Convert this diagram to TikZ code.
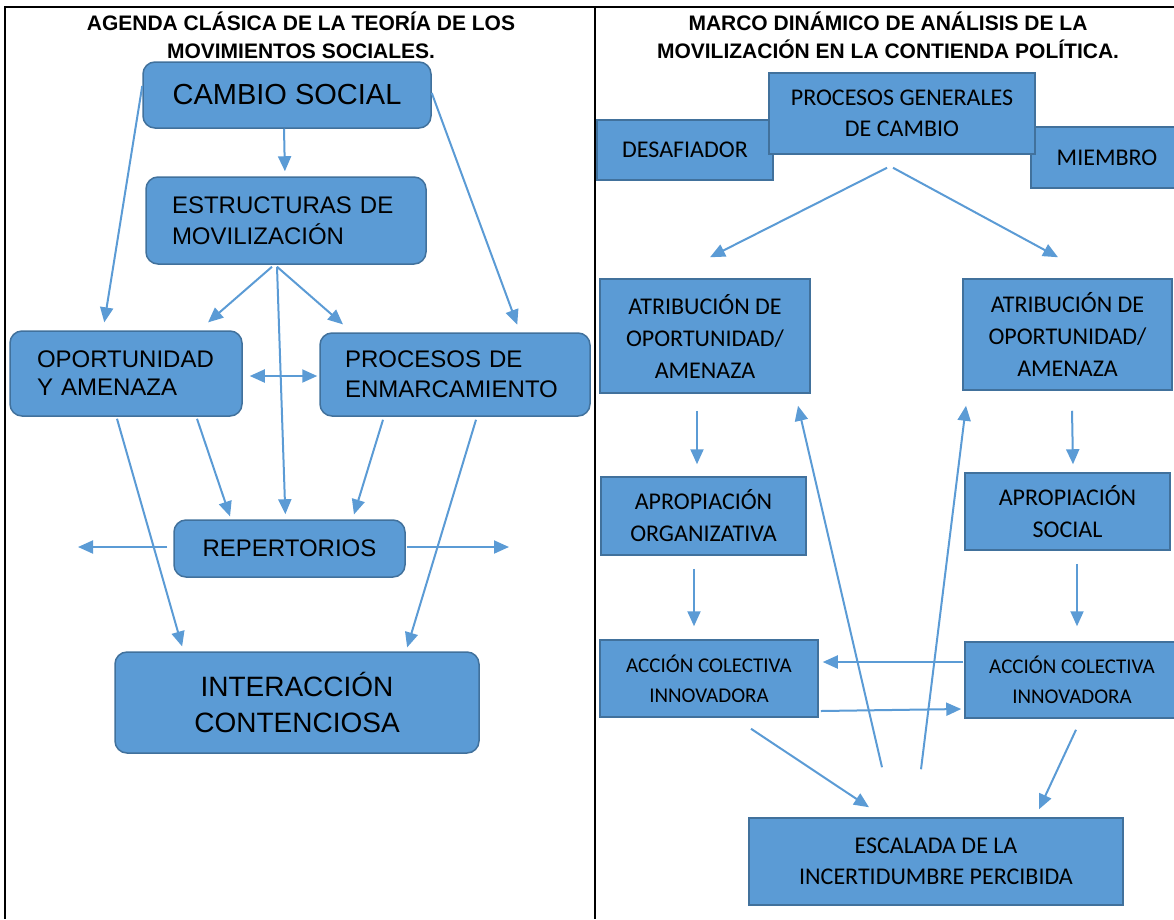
\documentclass[tikz,border=0pt]{standalone}
\usepackage{fontspec}
\setmainfont{Liberation Sans}
\newfontfamily\calibri{Carlito}
\usepackage{xcolor}
\usetikzlibrary{arrows.meta}

\definecolor{boxblue}{HTML}{5B9BD5}
\definecolor{lineblue}{HTML}{41719C}

\begin{document}
\begin{tikzpicture}[x=1pt, y=-1pt,
	>={Triangle[length=15pt,width=13pt]},
	title/.style={align=center, inner sep=0, font=\bfseries\fontsize{21}{28}\selectfont},
	lbox/.style={fill=boxblue, draw=lineblue, line width=1.5pt, rounded corners=12pt, inner sep=0},
	rbox/.style={fill=boxblue, draw=lineblue, line width=1.5pt, inner sep=0, font=\calibri\fontsize{24}{31.5}\selectfont, align=center},
	arr/.style={draw=boxblue, line width=2pt, ->}]
	\useasboundingbox (0, 0) rectangle (1174, 919);
	% frame
	\draw [line width=2.5pt] (1174, 7) -- (5, 7) -- (5, 919);
	\draw [line width=2.5pt] (595, 7) -- (595, 919);
	\node [title] (tleft) at (301, 35) {AGENDA CLÁSICA DE LA TEORÍA DE LOS\\MOVIMIENTOS SOCIALES.};
	\node [title] (tright) at (888, 35) {MARCO DINÁMICO DE ANÁLISIS DE LA\\MOVILIZACIÓN EN LA CONTIENDA POLÍTICA.};

	% left: agenda clasica
	\node [lbox, minimum width=288pt, minimum height=66pt, font=\fontsize{29}{34}\selectfont] (cambio) at (287, 95) {CAMBIO SOCIAL};
	\node [lbox, minimum height=87pt, inner xsep=26pt, text width=228pt, align=left, font=\fontsize{24}{31}\selectfont] (estr) at (286, 220.5) {ESTRUCTURAS DE\\MOVILIZACIÓN};
	\node [lbox, minimum height=85pt, inner xsep=27pt, text width=178pt, align=left, font=\fontsize{24}{28}\selectfont] (oport) at (126, 373.5) {OPORTUNIDAD\\Y AMENAZA};
	\node [lbox, minimum height=83pt, inner xsep=25pt, text width=220pt, align=left, font=\fontsize{24}{30}\selectfont] (proc) at (455, 374.5) {PROCESOS DE\\ENMARCAMIENTO};
	\node [lbox, minimum width=231pt, minimum height=57pt, font=\fontsize{24}{28}\selectfont] (rep) at (289.5, 548.5) {REPERTORIOS};
	\node [lbox, minimum width=364pt, minimum height=101pt, align=center, font=\fontsize{28}{36}\selectfont] (inter) at (297, 702.5) {INTERACCIÓN\\CONTENCIOSA};
	\coordinate (repL) at (78, 547);
	\coordinate (repR) at (509, 547);

	\draw [arr, shorten >=5pt] ([xshift=-3pt]cambio.south) to ([xshift=-1pt]estr.north);
	\draw [arr, shorten >=8pt] ([yshift=9pt]cambio.west) to ([xshift=-23pt]oport.north);
	\draw [arr, shorten >=8pt] ([yshift=2pt]cambio.east) to ([xshift=65pt]proc.north);
	\draw [arr, shorten >=12pt] ([xshift=-14pt,yshift=-2pt]estr.south) to ([xshift=73pt]oport.north);
	\draw [arr, shorten >=12pt] ([xshift=-9pt,yshift=-2pt]estr.south) to ([xshift=-103pt]proc.north);
	\draw [arr, shorten >=5pt] ([xshift=-9pt,yshift=-2pt]estr.south) to ([xshift=-4pt]rep.north);
	\draw [arr, <->, shorten <=7pt, shorten >=2pt] ([yshift=-2.5pt]oport.east) to ([yshift=-1.5pt]proc.west);
	\draw [arr, shorten >=3pt] ([xshift=71pt,yshift=-2pt]oport.south) to ([xshift=-58.5pt]rep.north);
	\draw [arr, shorten >=5pt] ([xshift=-9pt,yshift=-2pt]oport.south) to ([xshift=-113.5pt]inter.north);
	\draw [arr, shorten >=5pt] ([xshift=-72pt,yshift=-3pt]proc.south) to ([xshift=63pt]rep.north);
	\draw [arr, shorten >=4pt] ([xshift=21pt,yshift=-3pt]proc.south) to ([xshift=109pt]inter.north);
	\draw [arr, shorten <=6pt] ([yshift=1.5pt]rep.west) to (repL);
	\draw [arr, shorten <=1pt] ([yshift=1.5pt]rep.east) to (repR);

	% right: marco dinamico
	\node [rbox, minimum width=176pt, minimum height=60pt] (desaf) at (685, 150) {DESAFIADOR};
	\node [rbox, minimum width=152pt, minimum height=61pt] (miembro) at (1107, 157.5) {MIEMBRO};
	\node [rbox, minimum width=266pt, minimum height=81pt] (gen) at (902, 113.5) {PROCESOS GENERALES\\DE CAMBIO};
	\node [rbox, minimum width=210pt, minimum height=114pt, font=\calibri\fontsize{24}{32}\selectfont] (atrL) at (705, 336) {ATRIBUCIÓN DE\\OPORTUNIDAD/\\AMENAZA};
	\node [rbox, minimum width=209pt, minimum height=111pt, font=\calibri\fontsize{24}{32}\selectfont] (atrR) at (1067.5, 334.5) {ATRIBUCIÓN DE\\OPORTUNIDAD/\\AMENAZA};
	\node [rbox, minimum width=205pt, minimum height=78pt, font=\calibri\fontsize{24}{32}\selectfont] (aproO) at (703.5, 516) {APROPIACIÓN\\ORGANIZATIVA};
	\node [rbox, minimum width=205pt, minimum height=77pt, font=\calibri\fontsize{24}{32}\selectfont] (aproS) at (1067.5, 511.5) {APROPIACIÓN\\SOCIAL};
	\node [rbox, minimum width=218pt, minimum height=77pt, font=\calibri\fontsize{21}{30}\selectfont] (accL) at (709, 678.5) {ACCIÓN COLECTIVA\\INNOVADORA};
	\node [rbox, minimum width=214pt, minimum height=76pt, font=\calibri\fontsize{21}{30}\selectfont] (accR) at (1072, 680) {ACCIÓN COLECTIVA\\INNOVADORA};
	\node [rbox, minimum width=374pt, minimum height=87pt] (esc) at (936, 861.5) {ESCALADA DE LA\\INCERTIDUMBRE PERCIBIDA};

	\draw [arr] ([xshift=-15pt,yshift=-13pt]gen.south) to ([xshift=5pt,yshift=21pt]atrL.north);
	\draw [arr] ([xshift=-9pt,yshift=-13pt]gen.south) to ([xshift=-9.5pt,yshift=21pt]atrR.north);
	\draw [arr] ([xshift=-8pt,yshift=-17pt]atrL.south) to ([xshift=-6.5pt,yshift=12pt]aproO.north);
	\draw [arr] ([xshift=4.5pt,yshift=-20pt]atrR.south) to ([xshift=5.5pt,yshift=8pt]aproS.north);
	\draw [arr] ([xshift=-9.5pt,yshift=-13pt]aproO.south) to ([xshift=-15pt,yshift=13pt]accL.north);
	\draw [arr] ([xshift=9.5pt,yshift=-13pt]aproS.south) to ([xshift=5pt,yshift=15pt]accR.north);
	\draw [arr] ([xshift=-1pt,yshift=18pt]accR.west) to ([xshift=4pt,yshift=16.5pt]accL.east);
	\draw [arr] ([xshift=2pt,yshift=-32.5pt]accL.east) to ([xshift=-3pt,yshift=-29pt]accR.west);
	\draw [arr] ([xshift=42pt,yshift=-11pt]accL.south) to ([xshift=-67pt,yshift=10pt]esc.north);
	\draw [arr] ([xshift=4pt,yshift=-11pt]accR.south) to ([xshift=103pt,yshift=8pt]esc.north);
	\draw [arr] ([xshift=-54pt,yshift=50pt]esc.north) to ([xshift=93pt,yshift=-12pt]atrL.south);
	\draw [arr] ([xshift=-15pt,yshift=48pt]esc.north) to ([xshift=-101.5pt,yshift=-15pt]atrR.south);
\end{tikzpicture}
\end{document}
